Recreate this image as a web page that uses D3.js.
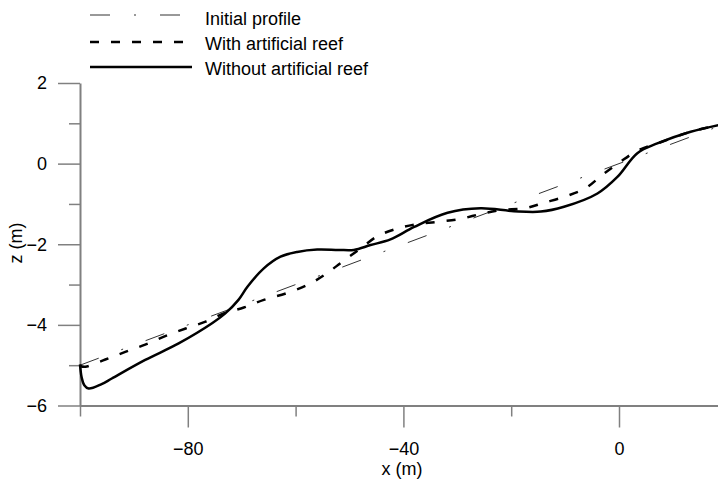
<!DOCTYPE html>
<html>
<head>
<meta charset="utf-8">
<script src="https://cdn.jsdelivr.net/npm/d3@7"></script>
<style>
  html, body { margin: 0; padding: 0; background: #fff; }
  svg { display: block; }
  text { font-family: "Liberation Sans", Arial, sans-serif; font-size: 18px; fill: #000; }
</style>
</head>
<body>
<svg id="chart" width="718" height="480"></svg>
<script>
// ---- data ----
const initialX = [-100, 20];
const initialZ = [-5.0, 1.0];

const withReefX = [-100, -99, -95.3, -91.6, -87.9, -84.2, -80.4, -76.7, -73, -69.6, -65.9, -61.8, -57.8, -54.4, -51.3, -47.9, -44.8, -41.1, -37.4, -33.4, -29.4, -25.7, -21.9, -17.6, -13.9, -9.6, -6.2, -3.1, 0, 3.4, 7.1, 13.3, 20];
const withReefZ = [-5.02, -5.04, -4.86, -4.67, -4.49, -4.28, -4.09, -3.92, -3.70, -3.57, -3.38, -3.22, -3.01, -2.74, -2.43, -2.10, -1.80, -1.61, -1.50, -1.44, -1.37, -1.25, -1.15, -1.11, -0.97, -0.80, -0.61, -0.28, 0.02, 0.32, 0.50, 0.79, 1.0];

const withoutReefX = [-100, -99.7, -99.2, -98.4, -96, -94.1, -87.9, -81.7, -75.5, -73, -70.6, -68.9, -65.9, -62.8, -59.7, -56, -52, -49.2, -46.1, -42.4, -38, -31.8, -25.7, -19.5, -14.5, -10.2, -4, -0.3, 3.4, 7.1, 13.3, 20];
const withoutReefZ = [-4.98, -5.3, -5.5, -5.58, -5.47, -5.33, -4.87, -4.46, -3.96, -3.71, -3.38, -3.05, -2.60, -2.31, -2.19, -2.13, -2.14, -2.14, -2.02, -1.88, -1.57, -1.22, -1.11, -1.18, -1.19, -1.07, -0.74, -0.33, 0.26, 0.50, 0.79, 1.0];

const xMajorTicks = [-80, -40, 0];
const xMinorTicks = [-100, -60, -20, 20];
const yMajorTicks = [-6, -4, -2, 0, 2];
const yMinorTicks = [-5, -3, -1, 1];

const legendLabels = ["Initial profile", "With artificial reef", "Without artificial reef"];

// ---- layout ----
const svg = d3.select("#chart");
const x = d3.scaleLinear().domain([-100, 20]).range([80, 80 + 120 * 5.39]);
const y = d3.scaleLinear().domain([-6, 2]).range([405.5, 83]);

const axisColor = "#808080";

// y axis
const gy = svg.append("g").attr("transform", `translate(${x(-100)},0)`);
gy.call(d3.axisLeft(y).tickValues(yMajorTicks).tickSize(22).tickSizeOuter(0).tickPadding(11).tickFormat(d3.format("d")));
const gyMinor = svg.append("g").attr("transform", `translate(${x(-100)},0)`);
gyMinor.call(d3.axisLeft(y).tickValues(yMinorTicks).tickSize(11).tickSizeOuter(0).tickFormat(""));
gyMinor.select(".domain").remove();

// x axis
const gx = svg.append("g").attr("transform", `translate(0,${y(-6)})`);
gx.call(d3.axisBottom(x).tickValues(xMajorTicks).tickSize(22).tickSizeOuter(0).tickPadding(15).tickFormat(d3.format("d")));
const gxMinor = svg.append("g").attr("transform", `translate(0,${y(-6)})`);
gxMinor.call(d3.axisBottom(x).tickValues(xMinorTicks).tickSize(11).tickSizeOuter(0).tickFormat(""));
gxMinor.select(".domain").remove();

svg.selectAll(".domain").attr("stroke", axisColor).attr("stroke-width", 2);
svg.selectAll(".tick line").attr("stroke", axisColor).attr("stroke-width", 1.5);
svg.selectAll(".tick text").style("font-family", '"Liberation Sans", Arial, sans-serif').style("font-size", "18px").attr("fill", "#000");

// axis titles
svg.append("text").attr("x", 402).attr("y", 475).attr("text-anchor", "middle").text("x (m)");
svg.append("text").attr("transform", "translate(22,243) rotate(-90)").attr("text-anchor", "middle").text("z (m)");

// ---- lines ----
const mk = (xs, zs) => xs.map((v, i) => [v, zs[i]]);
const lineGen = d3.line().x(d => x(d[0])).y(d => y(d[1])).curve(d3.curveCatmullRom.alpha(0.5));

const series = [
  { data: mk(initialX, initialZ), width: 1, dash: "20,24,2,24", color: "#333" },
  { data: mk(withReefX, withReefZ), width: 2.5, dash: "9,12", color: "#000" },
  { data: mk(withoutReefX, withoutReefZ), width: 2.5, dash: null, color: "#000" }
];

series.forEach(s => {
  svg.append("path")
    .datum(s.data)
    .attr("d", lineGen)
    .attr("fill", "none")
    .attr("stroke", s.color)
    .attr("stroke-width", s.width)
    .attr("stroke-dasharray", s.dash)
    .attr("stroke-linejoin", "round");
});

// ---- legend ----
const legendLineY = [15, 42, 67];
const legendTextY = [25, 50, 75];
series.forEach((s, i) => {
  svg.append("line")
    .attr("x1", 90).attr("x2", 192)
    .attr("y1", legendLineY[i]).attr("y2", legendLineY[i])
    .attr("stroke", s.color)
    .attr("stroke-width", s.width)
    .attr("stroke-dasharray", s.dash);
  svg.append("text").attr("x", 205).attr("y", legendTextY[i]).text(legendLabels[i]);
});
</script>
</body>
</html>
